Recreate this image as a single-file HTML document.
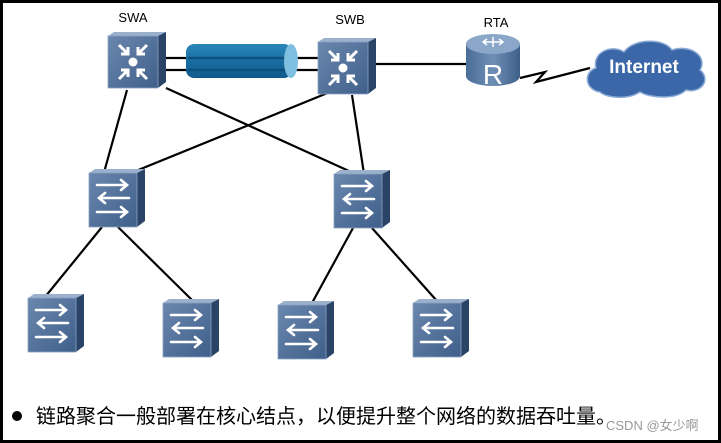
<!DOCTYPE html>
<html><head><meta charset="utf-8"><style>
html,body{margin:0;padding:0;background:#fff}
svg{display:block}
</style></head><body>
<svg width="721" height="443" viewBox="0 0 721 443" xmlns="http://www.w3.org/2000/svg">
<defs>
<linearGradient id="face" x1="0" y1="0" x2="1" y2="1">
<stop offset="0" stop-color="#6a87ae"/><stop offset="1" stop-color="#3f5f8a"/></linearGradient>
<linearGradient id="pipe" x1="0" y1="0" x2="0" y2="1">
<stop offset="0" stop-color="#2b86b8"/><stop offset="0.5" stop-color="#1a6ea3"/><stop offset="1" stop-color="#0f5a8a"/></linearGradient>
<linearGradient id="rt" x1="0" y1="0" x2="1" y2="0">
<stop offset="0" stop-color="#4a6d98"/><stop offset="0.5" stop-color="#6f8fb6"/><stop offset="1" stop-color="#3e5f88"/></linearGradient>
<g id="sw">
<polygon points="0,4 6,0 56,0 48,4" fill="#9ab0cc"/>
<polygon points="48,4 56,0 56,52 48,58" fill="#2a4468"/>
<rect x="0" y="4" width="48" height="54" fill="url(#face)" stroke="#8aa2c2" stroke-width="0.8"/>
<g stroke="#fff" stroke-width="2.6" fill="none" stroke-linecap="round">
<path d="M8 16H38M32 11L38 16L32 21"/>
<path d="M10 29H40M16 24L10 29L16 34"/>
<path d="M8 43H38M32 38L38 43L32 48"/>
</g>
</g>
<g id="core">
<polygon points="0,4 6,0 58,0 50,4" fill="#9ab0cc"/>
<polygon points="50,4 58,0 58,50 50,56" fill="#2a4468"/>
<rect x="0" y="4" width="50" height="52" fill="url(#face)" stroke="#8aa2c2" stroke-width="0.8"/>
<g stroke="#fff" stroke-width="3" fill="none">
<path d="M11 13L20 22M20 15V22H13"/>
<path d="M39 13L30 22M30 15V22H37"/>
<path d="M11 47L20 38M20 45V38H13"/>
<path d="M39 47L30 38M30 45V38H37"/>
</g>
<circle cx="25" cy="30" r="4.5" fill="#fff"/>
</g>
</defs>
<rect x="1.5" y="1.5" width="718" height="440" fill="#fff" stroke="#000" stroke-width="3"/>
<g stroke="#000" stroke-width="2.2">
<line x1="160" y1="58" x2="320" y2="58"/>
<line x1="160" y1="70" x2="320" y2="70"/>
<line x1="376" y1="64" x2="466" y2="64"/>
<line x1="127" y1="90" x2="103" y2="176"/>
<line x1="166" y1="88" x2="360" y2="176"/>
<line x1="330" y1="92" x2="126" y2="175"/>
<line x1="352" y1="95" x2="364" y2="174"/>
<line x1="102" y1="227" x2="45" y2="297"/>
<line x1="118" y1="227" x2="193" y2="301"/>
<line x1="353" y1="228" x2="312" y2="303"/>
<line x1="372" y1="228" x2="437" y2="301"/>
<polyline points="520,78 545,72 536,82 590,68" fill="none"/>
</g>
<rect x="186" y="44" width="106" height="34" rx="8" fill="url(#pipe)"/>
<g stroke="#0d4f7d" stroke-width="2.5"><line x1="188" y1="58" x2="290" y2="58"/><line x1="188" y1="70" x2="290" y2="70"/></g>
<ellipse cx="291" cy="61" rx="7" ry="17" fill="#7fbfdf"/>
<use href="#core" x="108" y="32"/>
<use href="#core" x="318" y="38"/>
<use href="#sw" x="89" y="169"/>
<use href="#sw" x="334" y="170"/>
<use href="#sw" x="28" y="294"/>
<use href="#sw" x="163" y="299"/>
<use href="#sw" x="278" y="301"/>
<use href="#sw" x="413" y="299"/>
<path d="M466 44V76A27 10 0 0 0 520 76V44Z" fill="url(#rt)"/>
<ellipse cx="493" cy="44" rx="27" ry="10" fill="#8aa6c8"/>
<text x="493" y="84" font-family="Liberation Sans,sans-serif" font-size="28" fill="#fff" text-anchor="middle">R</text>
<g stroke="#fff" stroke-width="1.5" fill="none"><path d="M483 42h20M487 39l-4 3 4 3M499 39l4 3-4 3M493 37v10"/></g>
<path d="M600 92C585 90 583 72 596 68C592 52 612 44 624 52C634 38 664 38 672 50C690 44 708 56 700 70C712 80 700 94 686 90C676 100 650 98 640 92C628 100 606 98 600 92Z" fill="#3b67a8" stroke="#8aaad6" stroke-width="1.5"/>
<text x="644" y="73" font-family="Liberation Sans,sans-serif" font-size="19" font-weight="bold" fill="#fff" text-anchor="middle">Internet</text>
<g font-family="Liberation Sans,sans-serif" font-size="13" fill="#000" text-anchor="middle">
<text x="133" y="22">SWA</text>
<text x="350" y="24">SWB</text>
<text x="496" y="27">RTA</text>
</g>
<circle cx="17" cy="416" r="5" fill="#000"/>
<text x="36" y="423" font-family="Liberation Sans,'Noto Sans CJK SC',sans-serif" font-size="20" fill="#000">链路聚合一般部署在核心结点，以便提升整个网络的数据吞吐量。</text>
<text x="606" y="430" font-family="Liberation Sans,'Noto Sans CJK SC',sans-serif" font-size="13" fill="#999">CSDN @女少啊</text>
</svg>
</body></html>
